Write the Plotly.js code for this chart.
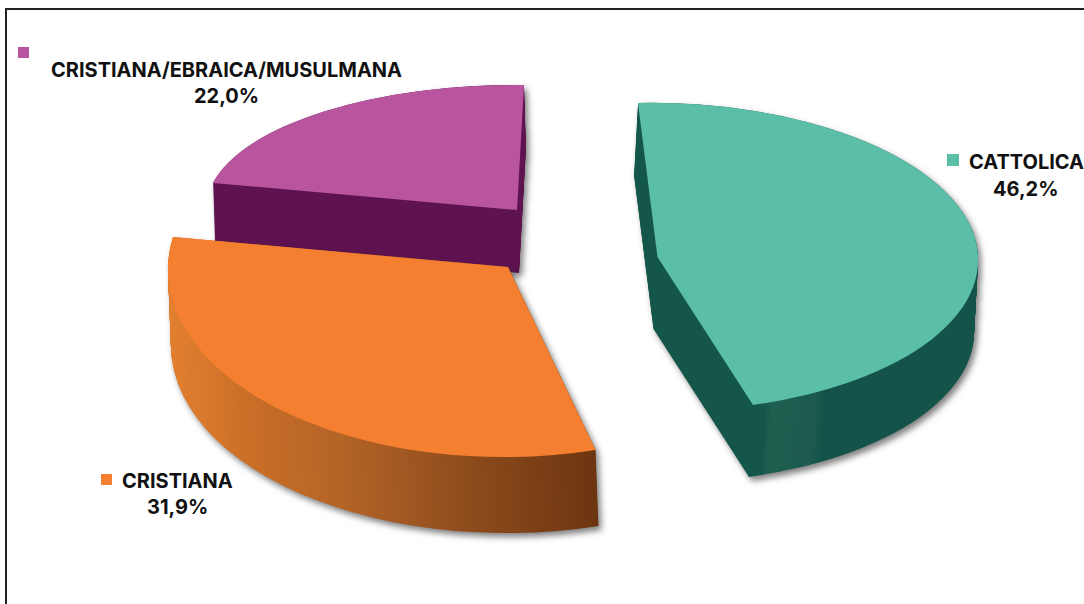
<!DOCTYPE html>
<html><head><meta charset="utf-8">
<script src="https://cdn.plot.ly/plotly-3.0.1.min.js"></script>
<style>html,body{margin:0;padding:0;background:#fff}#chart{width:1084px;height:604px}</style>
</head><body><div id="chart"></div>
<script>
// data
const categories = ['CATTOLICA', 'CRISTIANA', 'CRISTIANA/EBRAICA/MUSULMANA'];
const shares = [46.2, 31.9, 22.0];
const shareLabels = ['46,2%', '31,9%', '22,0%'];
// styles
const topColors = ['#5bbfa8', '#f47f30', '#b9559f'];
const wallStops = [
  [['0', '#14574a'], ['0.28', '#14574a'], ['0.30', '#1f5f50'], ['0.44', '#1b5a4c'], ['0.47', '#14534a'], ['1', '#14534a']],
  [['0', '#e27f30'], ['0.2', '#c76d27'], ['0.4', '#b36427'], ['0.7', '#8d4b1c'], ['1', '#6c3510']],
  [['0', '#5e1250'], ['1', '#5e1250']]
];
// 3D view of each exploded slice: linear part (a,b,c,d per unit radius), apex, extrusion
const views = [
  {m: [320, 19.5, -6.4, 154], apex: [657.5, 257], depth: [-4, 72]},
  {m: [340, 6.5, -6, 190], apex: [508, 267], depth: [3, 76]},
  {m: [311, -7, 3.5, 125], apex: [517, 210], depth: [2, 63]}
];
const drawOrder = [2, 1, 0];
const labelPos = [[1026, 162, 189], [177, 481, 507], [226, 70, 96]];
const squarePos = [[947, 154, 12], [101, 474, 11], [18, 47, 11]];
const W = 1084, H = 604;

const traces = drawOrder.map(i => ({
  type: 'pie', labels: categories, values: shares, sort: false, direction: 'clockwise', rotation: 0,
  textinfo: 'none', hoverinfo: 'skip', showlegend: false,
  marker: {colors: categories.map((_, j) => j === i ? topColors[j] : 'rgba(0,0,0,0)'), line: {width: 0}},
  domain: {x: [0, 1], y: [0, 1]}
}));

const font = {family: 'Inter, Lato, "Liberation Sans", sans-serif', size: 20, color: '#111'};
const annotations = [];
categories.forEach((c, i) => {
  const [x, y1, y2] = labelPos[i];
  annotations.push({text: '<b>' + c + '</b>', x: x / W, y: 1 - y1 / H, xref: 'paper', yref: 'paper', showarrow: false, font, xanchor: 'center', yanchor: 'middle'});
  annotations.push({text: '<b>' + shareLabels[i] + '</b>', x: x / W, y: 1 - y2 / H, xref: 'paper', yref: 'paper', showarrow: false, font, xanchor: 'center', yanchor: 'middle'});
});
const shapes = [
  {type: 'line', xref: 'paper', yref: 'paper', x0: 6 / W, x1: 6 / W, y0: 0, y1: 1 - 8 / H, line: {color: '#222', width: 2}},
  {type: 'line', xref: 'paper', yref: 'paper', x0: 6 / W, x1: 1, y0: 1 - 9 / H, y1: 1 - 9 / H, line: {color: '#222', width: 2}}
];
squarePos.forEach(([x, y, s], i) => shapes.push({type: 'rect', xref: 'paper', yref: 'paper', x0: x / W, x1: (x + s) / W, y0: 1 - y / H, y1: 1 - (y + s) / H, fillcolor: topColors[i], line: {width: 0}}));

const layout = {width: W, height: H, margin: {l: 0, r: 0, t: 0, b: 0}, paper_bgcolor: '#fff', plot_bgcolor: '#fff', showlegend: false, annotations, shapes};

Plotly.newPlot('chart', traces, layout, {staticPlot: true, displayModeBar: false}).then(gd => {
  const NS = 'http://www.w3.org/2000/svg';
  const defs = gd.querySelector('svg.main-svg defs');
  const layer = gd.querySelector('.pielayer');
  const groups = Array.from(layer.querySelectorAll('.trace'));
  drawOrder.forEach((i, t) => {
    const cd = gd.calcdata[t][0], r = cd.r, v = views[i];
    const a = v.m[0] / r, c = v.m[1] / r, b = v.m[2] / r, d = v.m[3] / r;
    const e = v.apex[0] - (a * cd.cx + c * cd.cy), f = v.apex[1] - (b * cd.cx + d * cd.cy);
    const mat = `matrix(${a},${b},${c},${d},${e},${f})`;
    const g = groups[t];
    const grad = document.createElementNS(NS, 'linearGradient');
    grad.setAttribute('id', 'wall' + i);
    wallStops[i].forEach(([o, col]) => {
      const s = document.createElementNS(NS, 'stop');
      s.setAttribute('offset', o); s.setAttribute('stop-color', col); grad.appendChild(s);
    });
    defs.appendChild(grad);
    const path = g.querySelectorAll('path.surface')[i];
    const wall = document.createElementNS(NS, 'g');
    wall.style.filter = 'drop-shadow(3px 4px 3px rgba(60,60,60,.65))';
    const steps = Math.ceil(Math.abs(v.depth[1]));
    for (let k = steps; k >= 0; k--) {
      const cl = path.cloneNode(true);
      cl.style.fill = `url(#wall${i})`; cl.style.stroke = 'none';
      cl.setAttribute('transform', `translate(${v.depth[0] * k / steps},${v.depth[1] * k / steps}) ${mat}`);
      wall.appendChild(cl);
    }
    layer.insertBefore(wall, g);
    g.setAttribute('transform', mat);
  });
});
</script></body></html>
